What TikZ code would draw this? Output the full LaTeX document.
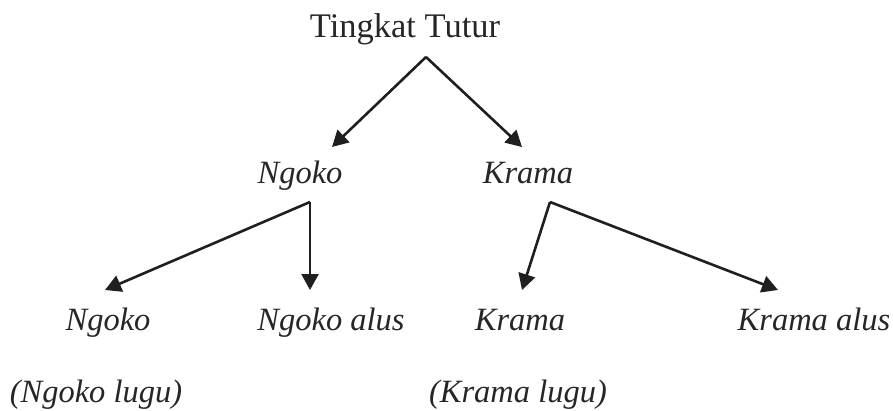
\documentclass[tikz,border=0pt]{standalone}
\usepackage{fontspec}
\setmainfont{Liberation Serif}
\usetikzlibrary{arrows.meta}
\begin{document}
\begin{tikzpicture}[x=1pt,y=-1pt,
  lbl/.style={inner sep=0pt,anchor=base,text=black!85,font=\fontsize{34.5}{40}\selectfont},
  ilbl/.style={lbl,font=\fontsize{32.5}{38}\selectfont\itshape},
  arr/.style={line width=2.6pt,draw=black!88,-{Triangle[length=16pt,width=17pt]}}]
\useasboundingbox (0,0) rectangle (893,410);
\node[lbl] (root) at (405,37) {Tingkat Tutur};
\node[ilbl] (ngoko) at (300,183) {Ngoko};
\node[ilbl] (krama) at (528,183) {Krama};
\node[ilbl] (ngokol) at (108,330) {Ngoko};
\node[ilbl] (ngokoa) at (331,330) {Ngoko alus};
\node[ilbl] (kramal) at (520,330) {Krama};
\node[ilbl] (kramaa) at (814,330) {Krama alus};
\node[ilbl] (ngokolugu) at (96,402) {(Ngoko lugu)};
\node[ilbl] (kramalugu) at (518,402) {(Krama lugu)};
\coordinate (p0) at (426,57);
\coordinate (p1) at (310,202);
\coordinate (p2) at (550,202);
\coordinate (t1) at (332,147);
\coordinate (t2) at (522,147);
\coordinate (t3) at (105,290);
\coordinate (t4) at (310,290);
\coordinate (t5) at (522,290);
\coordinate (t6) at (778,290);
\draw[arr] (p0) -- (t1);
\draw[arr] (p0) -- (t2);
\draw[arr] (p1) -- (t3);
\draw[arr] (p1) -- (t4);
\draw[arr] (p2) -- (t5);
\draw[arr] (p2) -- (t6);
\end{tikzpicture}
\end{document}
